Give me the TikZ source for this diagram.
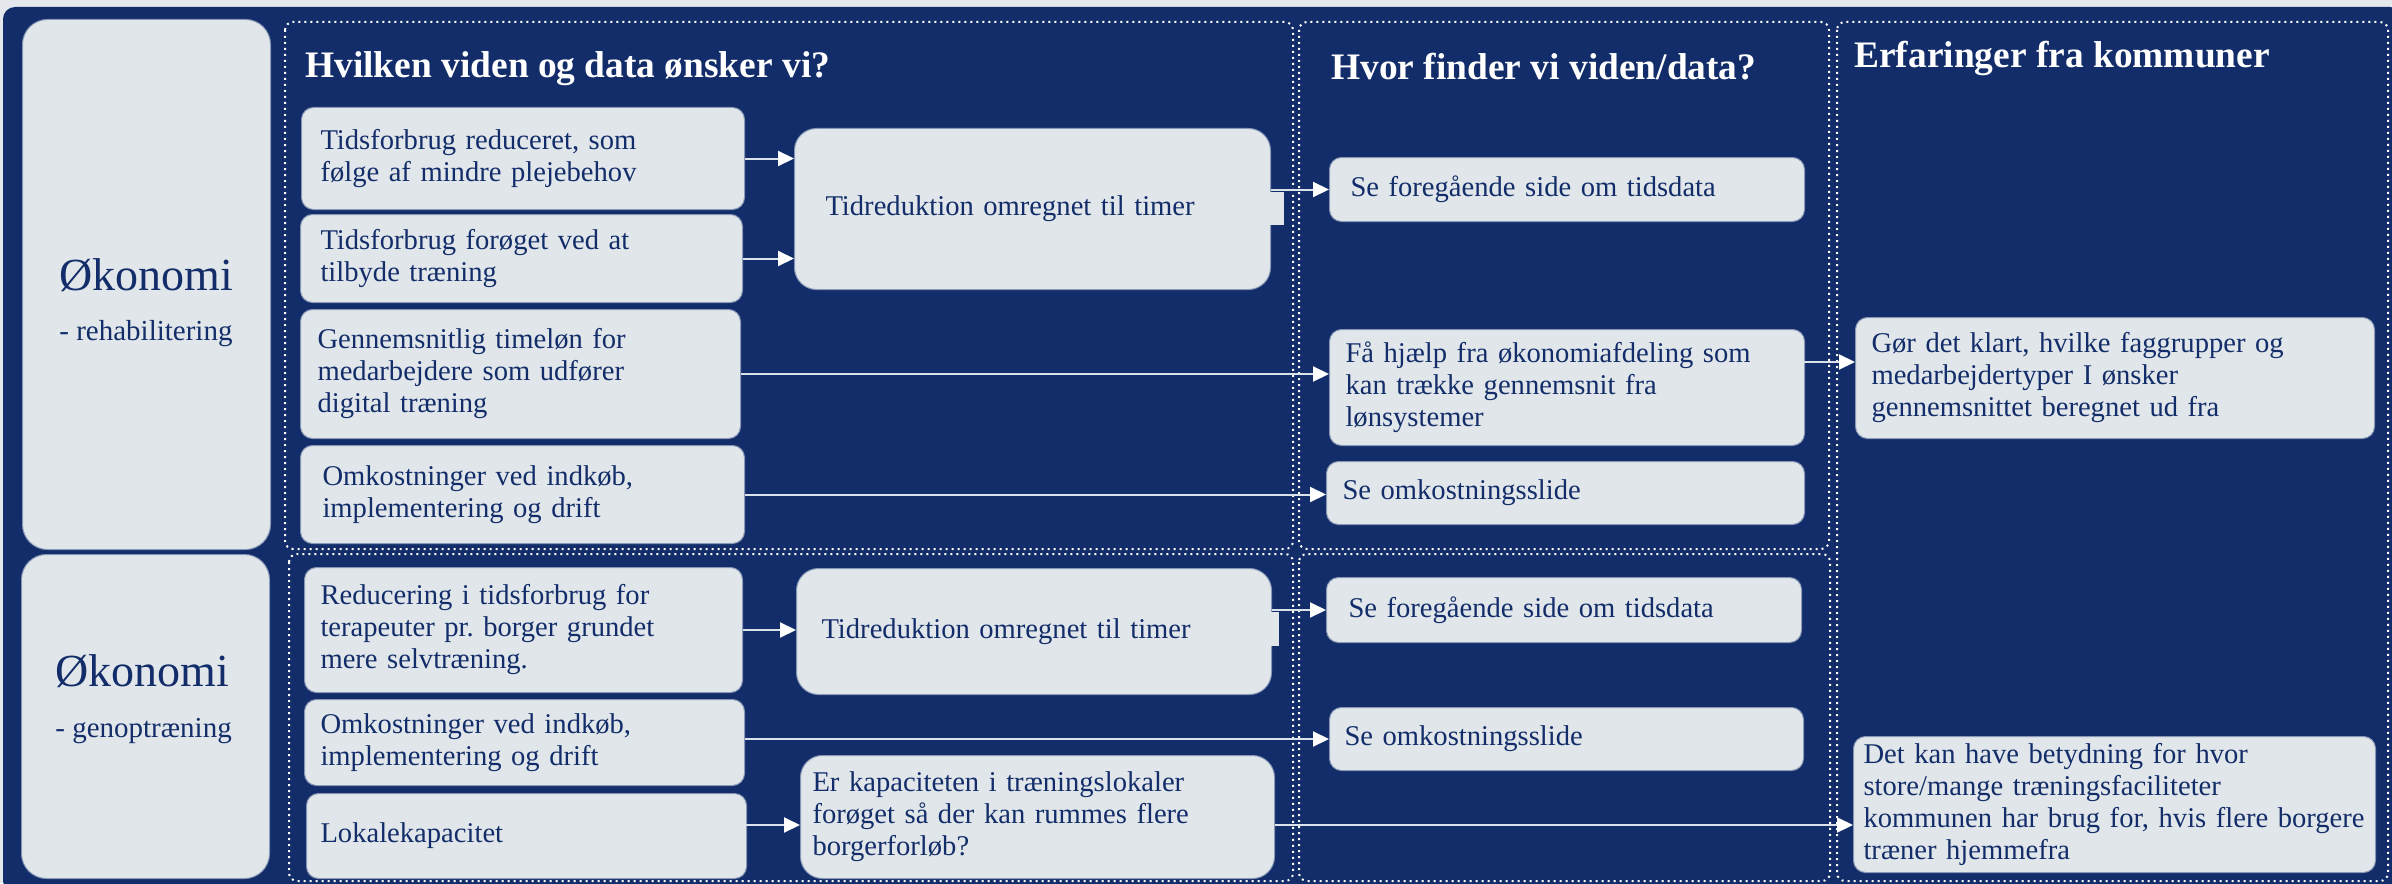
\documentclass[tikz,border=0pt]{standalone}
\usepackage{fontspec}
\setmainfont{Liberation Serif}
\usepackage{xcolor}
\usetikzlibrary{arrows.meta,calc}
\frenchspacing

\definecolor{navy}{HTML}{122D69}
\definecolor{cardfill}{HTML}{E1E6EA}
\definecolor{cardline}{HTML}{8797B5}
\definecolor{paper}{HTML}{E4E8EC}
\definecolor{arrowline}{HTML}{DCE2EA}

\begin{document}
\begin{tikzpicture}[x=0.5pt, y=-0.5pt, line join=round,
  card/.style n args={3}{draw=cardline, line width=0.5pt, fill=cardfill, text=navy,
    rounded corners=6pt, anchor=north west, inner xsep=#3*0.5pt, inner ysep=2pt,
    minimum width=#1*0.5pt, minimum height=#2*0.5pt, text width=#1*0.5pt-#3*1pt,
    align=left, font=\fontsize{14.3pt}{16pt}\selectfont},
  bigcard/.style n args={3}{card={#1}{#2}{#3}, rounded corners=11pt},
  side/.style 2 args={card={#1}{#2}{10}, rounded corners=12.5pt},
  head/.style={anchor=base west, inner sep=0pt, text=white,
    font=\fontsize{18.7pt}{22pt}\selectfont\bfseries},
  frame/.style={draw=white, line width=1pt, dash pattern=on 1pt off 2pt, rounded corners=4pt},
  arr/.style={draw=arrowline, line width=1pt, -{Triangle[length=8pt,width=7.5pt,color=white]}}]
  \useasboundingbox (0,0) rectangle (2392,883);
  \fill[paper] (0,0) rectangle (2392,883);
  \fill[navy, rounded corners=6pt] (3,7) rectangle (2402,893);

  % dotted column frames
  \draw[frame] (285,22) rectangle (1293,549);
  \draw[frame] (1299,22) rectangle (1829,549);
  \draw[frame] (289,554) rectangle (1293,881);
  \draw[frame] (1299,554) rectangle (1830,881);
  \draw[frame] (1837,22) rectangle (2388,881);

  % headings
  \node[head] (h1) at (305,78) {Hvilken viden og data ønsker vi?};
  \node[head] (h2) at (1331,80) {Hvor finder vi viden/data?};
  \node[head] (h3) at (1854,68) {Erfaringer fra kommuner};

  % left column
  \node[side={248}{530}] (LR) at (22,19) {};
  \node[side={248}{324}] (LG) at (21,554) {};
  \node[anchor=base west, inner sep=0pt, text=navy, font=\fontsize{23pt}{28pt}\selectfont] (LRt) at (59,290) {Økonomi};
  \node[anchor=base west, inner sep=0pt, text=navy, font=\fontsize{14.5pt}{17pt}\selectfont] (LRs) at (59,340) {- rehabilitering};
  \node[anchor=base west, inner sep=0pt, text=navy, font=\fontsize{23pt}{28pt}\selectfont] (LGt) at (55,686) {Økonomi};
  \node[anchor=base west, inner sep=0pt, text=navy, font=\fontsize{14.5pt}{17pt}\selectfont] (LGs) at (55,737) {- genoptræning};

  % rehabilitering
  \node[card={443}{102}{19}] (A) at (301,107) {Tidsforbrug reduceret, som\\følge af mindre plejebehov};
  \node[card={442}{88}{20}] (B) at (300,214) {Tidsforbrug forøget ved at\\tilbyde træning};
  \node[card={440}{129}{17}] (C) at (300,309) {Gennemsnitlig timeløn for\\medarbejdere som udfører\\digital træning};
  \node[card={444}{98}{22}] (D) at (300,445) {Omkostninger ved indkøb,\\implementering og drift};
  \node[bigcard={476}{161}{31}] (T1) at (794,128) {Tidreduktion omregnet til timer};
  \fill[cardfill] (1269,192) rectangle (1284,225);
  \node[card={475}{64}{21}] (S1) at (1329,157) {Se foregående side om tidsdata};
  \node[card={475}{116}{16}] (S2) at (1329,329) {Få hjælp fra økonomiafdeling som\\kan trække gennemsnit fra\\lønsystemer};
  \node[card={478}{63}{16}] (S3) at (1326,461) {Se omkostningsslide};
  \node[card={519}{121}{16}] (G) at (1855,317) {Gør det klart, hvilke faggrupper og\\medarbejdertyper I ønsker\\gennemsnittet beregnet ud fra};

  % genoptraening
  \node[card={438}{125}{16}] (E) at (304,567) {Reducering i tidsforbrug for\\terapeuter pr. borger grundet\\mere selvtræning.};
  \node[card={440}{86}{16}] (F) at (304,699) {Omkostninger ved indkøb,\\implementering og drift};
  \node[card={440}{85}{14}] (L) at (306,793) {Lokalekapacitet};
  \node[bigcard={475}{126}{25}] (T2) at (796,568) {Tidreduktion omregnet til timer};
  \fill[cardfill] (1270,612) rectangle (1279,646);
  \node[bigcard={474}{123}{12}] (K) at (800,755) {Er kapaciteten i træningslokaler\\forøget så der kan rummes flere\\borgerforløb?};
  \node[card={475}{65}{22}] (S4) at (1326,577) {Se foregående side om tidsdata};
  \node[card={474}{63}{15}] (S5) at (1329,707) {Se omkostningsslide};
  \node[card={522}{136}{10}] (H) at (1853,736) {Det kan have betydning for hvor\\store/mange træningsfaciliteter\\\mbox{kommunen har brug for, hvis flere borgere}\\træner hjemmefra};

  % connectors
  \coordinate (s2g) at (1797,362);
  \coordinate (lk) at (746,825);
  \draw[arr] (A.east) -- (A.east -| T1.west);
  \draw[arr] (B.east) -- (B.east -| T1.west);
  \draw[arr] (S1.west -| T1.east) -- (S1.west);
  \draw[arr] (C.east) -- (C.east -| S2.west);
  \draw[arr] (s2g) -- (s2g -| G.west);
  \draw[arr] (D.east) -- (D.east -| S3.west);
  \draw[arr] (E.east) -- (E.east -| T2.west);
  \draw[arr] (S4.west -| T2.east) -- (S4.west);
  \draw[arr] (S5.west -| F.east) -- (S5.west);
  \draw[arr] (lk) -- (lk -| K.west);
  \draw[arr] (lk -| K.east) -- (lk -| H.west);
\end{tikzpicture}
\end{document}
